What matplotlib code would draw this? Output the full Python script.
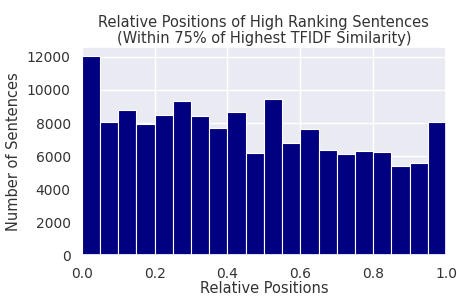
import numpy as np
import matplotlib
matplotlib.use("Agg")
import matplotlib.pyplot as plt
import seaborn as sns

sns.set_theme(style="darkgrid")
plt.rcParams['font.family'] = ['DejaVu Sans']

bin_edges = np.linspace(0, 1, 21)
counts = [12050, 8080, 8760, 7930, 8500, 9350, 8420, 7730, 8680, 6190,
          9470, 6780, 7670, 6390, 6110, 6310, 6250, 5400, 5580, 8080]
title = "Relative Positions of High Ranking Sentences\n(Within 75% of Highest TFIDF Similarity)"
xlabel = "Relative Positions"
ylabel = "Number of Sentences"

fig = plt.figure(figsize=(4.57, 2.97), dpi=100)
ax = fig.add_axes([0.179, 0.14, 0.797, 0.702])
centers = (bin_edges[:-1] + bin_edges[1:]) / 2
ax.hist(centers, bins=bin_edges, weights=counts, color="navy", edgecolor="white", linewidth=0.8)
ax.set_xlim(0, 1)
ax.set_ylim(0, 12600)
ax.set_yticks(range(0, 12001, 2000))
ax.tick_params(labelsize=10, pad=2, labelcolor="#333333")
ax.set_title(title, fontsize=10.5, color="#333333", pad=3, linespacing=1.05)
ax.set_xlabel(xlabel, fontsize=10.5, labelpad=0.5, color="#333333")
ax.set_ylabel(ylabel, fontsize=10.5, labelpad=4, color="#333333")
fig.savefig("out.png", dpi=100)
